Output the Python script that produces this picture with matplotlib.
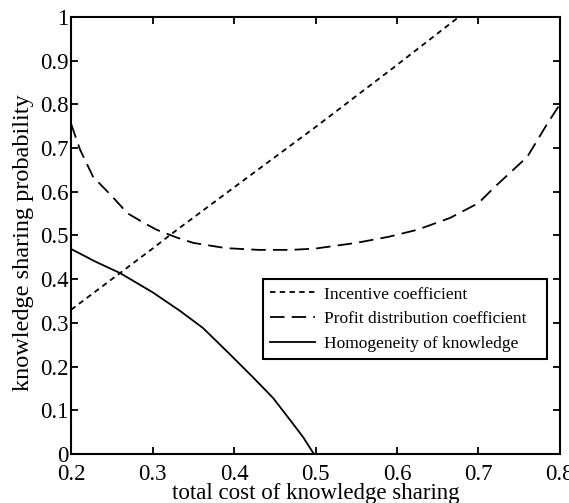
import matplotlib
matplotlib.use('Agg')
import matplotlib.pyplot as plt
from matplotlib.ticker import FormatStrFormatter

plt.rcParams['font.family'] = 'Liberation Serif'
plt.rcParams['font.size'] = 16

# incentive coefficient (short dashes)
inc_x = [0.2, 0.3, 0.325, 0.4, 0.5, 0.6, 0.676]
inc_y = [0.33, 0.47, 0.506, 0.61, 0.748, 0.89, 1.0]

# profit distribution coefficient (long dashes)
prof_x = [0.2, 0.211, 0.227, 0.25, 0.269, 0.29, 0.305, 0.33, 0.35, 0.39, 0.43,
          0.47, 0.5, 0.55, 0.59, 0.625, 0.665, 0.7, 0.72, 0.76, 0.785, 0.8]
prof_y = [0.755, 0.696, 0.634, 0.59, 0.551, 0.528, 0.513, 0.495, 0.483, 0.471, 0.467,
          0.467, 0.470, 0.483, 0.497, 0.513, 0.540, 0.574, 0.611, 0.68, 0.757, 0.80]

# homogeneity of knowledge (solid)
hom_x = [0.2, 0.23, 0.26, 0.3, 0.334, 0.362, 0.395, 0.423, 0.448, 0.472, 0.485, 0.498]
hom_y = [0.469, 0.44, 0.414, 0.37, 0.327, 0.288, 0.228, 0.176, 0.128, 0.07, 0.038, 0.0]

fig = plt.figure(figsize=(5.69, 5.03), dpi=100)
ax = fig.add_axes([0.125, 0.0974, 0.859, 0.869])

lw = 1.3
ax.plot(inc_x, inc_y, color='black', lw=lw, dashes=(3, 2.4), label='Incentive coefficient')
ax.plot(prof_x, prof_y, color='black', lw=lw, dashes=(8, 4), label='Profit distribution coefficient')
ax.plot(hom_x, hom_y, color='black', lw=lw, label='Homogeneity of knowledge')

ax.set_xlim(0.2, 0.8)
ax.set_ylim(0, 1)
ax.set_xticks([0.2, 0.3, 0.4, 0.5, 0.6, 0.7, 0.8])
ax.set_yticks([0, 0.1, 0.2, 0.3, 0.4, 0.5, 0.6, 0.7, 0.8, 0.9, 1])
ax.xaxis.set_major_formatter(FormatStrFormatter('%g'))
ax.yaxis.set_major_formatter(FormatStrFormatter('%g'))
ax.tick_params(direction='in', length=5, width=1.3, top=True, right=True, labelsize=16.5)
ax.tick_params(axis='x', pad=7)
ax.tick_params(axis='y', pad=2)
for s in ax.spines.values():
    s.set_linewidth(1.5)

ax.set_xlabel('total cost of knowledge sharing', fontsize=16.5, labelpad=-1)
ax.set_ylabel('knowledge sharing probability', fontsize=17.5)
ax.yaxis.set_label_coords(-0.076, 0.483)

leg = ax.legend(loc='lower left', bbox_to_anchor=(0.393, 0.217, 0.58, 0.19), mode='expand',
                fancybox=False, edgecolor='black', framealpha=1, fontsize=12.5,
                handlelength=2.6, handletextpad=0.5, borderaxespad=0, labelspacing=0.5)
leg.get_frame().set_linewidth(1.5)

fig.savefig('out.png', dpi=100)
